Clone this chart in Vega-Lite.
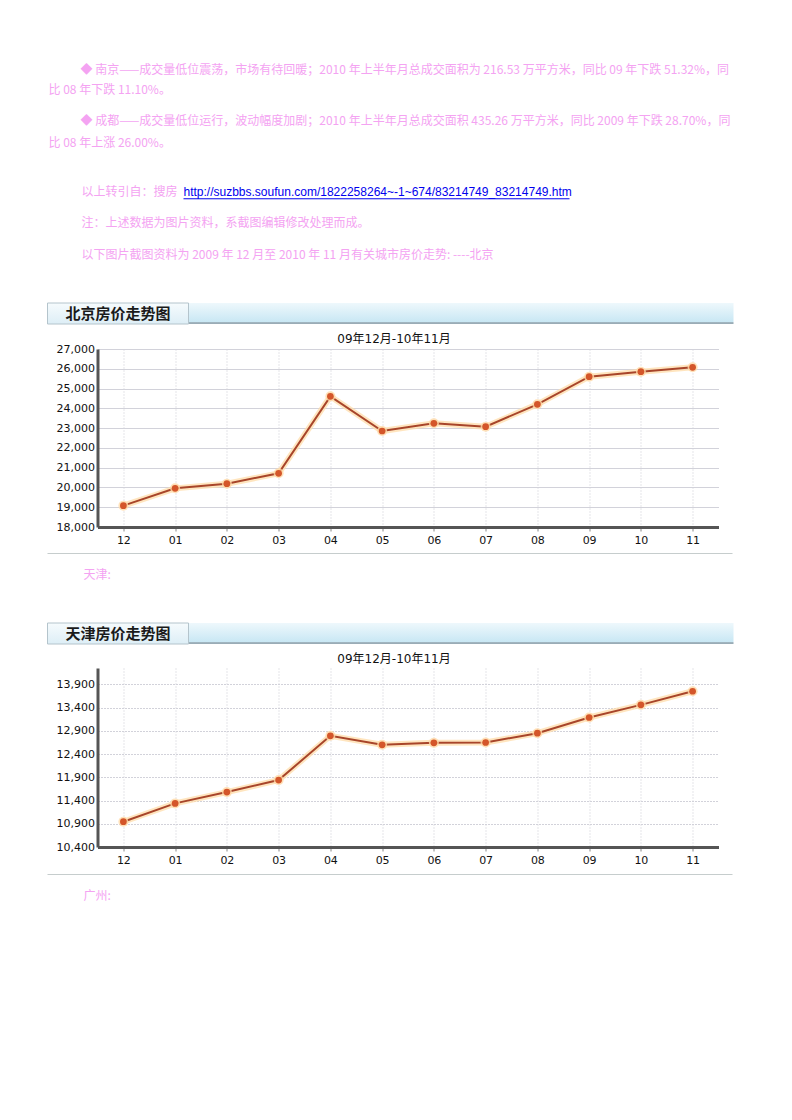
{
  "$schema": "https://vega.github.io/schema/vega-lite/v6.json",
  "background": "white",
  "padding": {"left": 46.5, "top": 60, "right": 10, "bottom": 10},
  "bounds": "flush",
  "spacing": 0,
  "config": {"view": {"stroke": null}, "concat": {"spacing": 0}},
  "vconcat": [
    {
      "width": 621, "height": 51,
      "data": {"values": [
        {"line": 1, "kind": "首行", "text": "◆ 南京——成交量低位震荡，市场有待回暖；2010 年上半年月总成交面积为 216.53 万平方米，同比 09 年下跌 51.32%，同"},
        {"line": 2, "kind": "续行", "text": "比 08 年下跌 11.10%。"}
      ]},
      "mark": {"type": "text", "align": "left", "baseline": "middle", "font": "Noto Sans CJK SC", "fontSize": 12, "color": "#f4a3f2"},
      "encoding": {
        "y": {"field": "line", "type": "ordinal", "axis": null, "scale": {"type": "point", "padding": 0.775, "align": 0.3226}},
        "x": {"field": "kind", "type": "nominal", "axis": null, "scale": {"type": "point", "padding": 0, "domain": ["续行", "首行"], "range": [-49, -17]}},
        "text": {"field": "text"}
      }
    },
    {
      "width": 621, "height": 66,
      "data": {"values": [
        {"line": 1, "kind": "首行", "text": "◆ 成都——成交量低位运行，波动幅度加剧；2010 年上半年月总成交面积 435.26 万平方米，同比 2009 年下跌 28.70%，同"},
        {"line": 2, "kind": "续行", "text": "比 08 年上涨 26.00%。"}
      ]},
      "mark": {"type": "text", "align": "left", "baseline": "middle", "font": "Noto Sans CJK SC", "fontSize": 12, "color": "#f4a3f2"},
      "encoding": {
        "y": {"field": "line", "type": "ordinal", "axis": null, "scale": {"type": "point", "padding": 1.15, "align": 0.2174}},
        "x": {"field": "kind", "type": "nominal", "axis": null, "scale": {"type": "point", "padding": 0, "domain": ["续行", "首行"], "range": [-49, -17]}},
        "text": {"field": "text"}
      }
    },
    {
      "width": 621, "height": 126,
      "encoding": {
        "y": {"field": "line", "type": "ordinal", "axis": null, "scale": {"type": "point", "padding": 1.0323, "align": 0.2344}}
      },
      "layer": [
        {
          "data": {"values": [
            {"line": 1, "kind": "首行", "text": "以上转引自：搜房"},
            {"line": 2, "kind": "首行", "text": "注：上述数据为图片资料，系截图编辑修改处理而成。"},
            {"line": 3, "kind": "首行", "text": "以下图片截图资料为 2009 年 12 月至 2010 年 11 月有关城市房价走势: ----北京"}
          ]},
          "mark": {"type": "text", "align": "left", "baseline": "middle", "font": "Noto Sans CJK SC", "fontSize": 12, "color": "#f4a3f2"},
          "encoding": {
            "x": {"field": "kind", "type": "nominal", "axis": null, "scale": {"type": "point", "padding": 0, "domain": ["首行", "链接"], "range": [-16, 86]}},
            "text": {"field": "text"}
          }
        },
        {
          "data": {"values": [
            {"line": 1, "kind": "链接", "text": "http://suzbbs.soufun.com/1822258264~-1~674/83214749_83214749.htm"}
          ]},
          "mark": {"type": "text", "align": "left", "baseline": "middle", "font": "Liberation Sans", "fontSize": 12, "color": "#0000ee"},
          "encoding": {
            "x": {"field": "kind", "type": "nominal", "axis": null, "scale": {"type": "point", "padding": 0, "domain": ["首行", "链接"], "range": [-16, 86]}},
            "text": {"field": "text"}
          }
        },
        {
          "data": {"values": [{"line": 1, "from": "起", "to": "止"}]},
          "mark": {"type": "rule", "color": "#0000ee", "strokeWidth": 1, "yOffset": 7},
          "encoding": {
            "x": {"field": "from", "type": "nominal", "axis": null, "scale": {"type": "point", "padding": 0, "domain": ["起", "止"], "range": [86, 472]}},
            "x2": {"field": "to"}
          }
        }
      ],
      "resolve": {"scale": {"x": "independent"}}
    },
    {
      "width": 621, "height": 21,
      "data": {"values": [{"部件": "标签", "标题": "北京房价走势图"}, {"部件": "标题栏", "标题": ""}]},
      "layer": [
        {
          "transform": [{"filter": "datum['部件'] === '标题栏'"}],
          "mark": {"type": "rect", "fill": {"gradient": "linear", "x1": 0, "y1": 0, "x2": 0, "y2": 1, "stops": [{"offset": 0, "color": "#eef8fc"}, {"offset": 0.92, "color": "#c8e7f4"}, {"offset": 0.93, "color": "#9aacb6"}, {"offset": 1, "color": "#9aacb6"}]}},
          "encoding": {"x": {"field": "部件", "type": "nominal", "axis": null, "scale": {"type": "band", "padding": 0, "domain": ["标题栏"], "range": [91, 636]}}}
        },
        {
          "transform": [{"filter": "datum['部件'] === '标签'"}],
          "mark": {"type": "rect", "fill": {"gradient": "linear", "x1": 0, "y1": 0, "x2": 0, "y2": 1, "stops": [{"offset": 0, "color": "#f6fbfd"}, {"offset": 1, "color": "#ddeef6"}]}, "stroke": "#b4c4cc", "strokeWidth": 1},
          "encoding": {"x": {"field": "部件", "type": "nominal", "axis": null, "scale": {"type": "band", "padding": 0, "domain": ["标签"], "range": [-50, 91]}}}
        },
        {
          "transform": [{"filter": "datum['部件'] === '标签'"}],
          "mark": {"type": "text", "align": "center", "baseline": "middle", "font": "Noto Sans CJK SC", "fontSize": 15, "fontWeight": "bold", "color": "#1a1a1a"},
          "encoding": {
            "x": {"field": "部件", "type": "nominal", "axis": null, "scale": {"type": "band", "padding": 0, "domain": ["标签"], "range": [-50, 91]}},
            "text": {"field": "标题"}
          }
        }
      ],
      "resolve": {"scale": {"x": "independent"}}
    },
    {
      "width": 621, "height": 25,
      "data": {"values": [{"line": 1, "text": "09年12月-10年11月"}]},
      "mark": {"type": "text", "align": "center", "baseline": "middle", "font": "DejaVu Sans, Noto Sans CJK SC", "fontSize": 12, "color": "#111111"},
      "encoding": {
        "y": {"field": "line", "type": "ordinal", "axis": null, "scale": {"type": "point", "align": 0.6}},
        "x": {"field": "text", "type": "nominal", "axis": null, "scale": {"type": "point", "range": [0, 593]}},
        "text": {"field": "text"}
      }
    },
    {
      "width": 621, "height": 178,
      "data": {"values": [
        {"月份": "12", "房价": 19080},
        {"月份": "01", "房价": 19955},
        {"月份": "02", "房价": 20190},
        {"月份": "03", "房价": 20714},
        {"月份": "04", "房价": 24607},
        {"月份": "05", "房价": 22854},
        {"月份": "06", "房价": 23242},
        {"月份": "07", "房价": 23073},
        {"月份": "08", "房价": 24202},
        {"月份": "09", "房价": 25601},
        {"月份": "10", "房价": 25854},
        {"月份": "11", "房价": 26073}
      ]},
      "encoding": {
        "x": {"field": "月份", "type": "ordinal", "sort": null, "scale": {"type": "point", "padding": 0.5},
          "axis": {"title": null, "labelAngle": 0, "labelFont": "DejaVu Sans", "labelFontSize": 11, "labelColor": "#111111", "labelPadding": 3, "domainColor": "#555555", "domainWidth": 3, "tickColor": "#888888", "tickSize": 4, "grid": true, "gridColor": "#cacad2", "gridDash": [1, 2]}},
        "y": {"field": "房价", "type": "quantitative", "scale": {"domain": [18000, 27000], "zero": false, "nice": false},
          "axis": {"title": null, "values": [18000, 19000, 20000, 21000, 22000, 23000, 24000, 25000, 26000, 27000], "format": ",d", "labelFont": "DejaVu Sans", "labelFontSize": 11, "labelColor": "#111111", "labelPadding": 3, "ticks": false, "domainColor": "#555555", "domainWidth": 3, "grid": true, "gridColor": "#d2d2da"}}
      },
      "layer": [
        {"mark": {"type": "line", "stroke": "#ffdcaa", "strokeWidth": 6, "opacity": 0.75}},
        {"mark": {"type": "line", "stroke": "#a8452a", "strokeWidth": 2}},
        {"mark": {"type": "point", "filled": true, "size": 100, "color": "#ffd9a8", "opacity": 0.8}},
        {"mark": {"type": "point", "filled": true, "size": 45, "color": "#d4562a", "opacity": 1}}
      ]
    },
    {"width": 621, "height": 26, "data": {"values": []}, "mark": "rect"},
    {
      "width": 621, "height": 1,
      "data": {"values": [{"部件": "分隔线"}]},
      "mark": {"type": "rect", "fill": "#c6cdcd"},
      "encoding": {"x": {"field": "部件", "type": "nominal", "axis": null, "scale": {"type": "band", "padding": 0, "range": [-50, 635]}}}
    },
    {
      "width": 621, "height": 69,
      "data": {"values": [{"line": 1, "kind": "首行", "text": "天津:"}]},
      "mark": {"type": "text", "align": "left", "baseline": "middle", "font": "Noto Sans CJK SC", "fontSize": 12, "color": "#f4a3f2"},
      "encoding": {
        "y": {"field": "line", "type": "ordinal", "axis": null, "scale": {"type": "point", "align": 0.3043}},
        "x": {"field": "kind", "type": "nominal", "axis": null, "scale": {"type": "point", "padding": 0, "domain": ["续行", "首行"], "range": [-46, -14]}},
        "text": {"field": "text"}
      }
    },
    {
      "width": 621, "height": 21,
      "data": {"values": [{"部件": "标签", "标题": "天津房价走势图"}, {"部件": "标题栏", "标题": ""}]},
      "layer": [
        {
          "transform": [{"filter": "datum['部件'] === '标题栏'"}],
          "mark": {"type": "rect", "fill": {"gradient": "linear", "x1": 0, "y1": 0, "x2": 0, "y2": 1, "stops": [{"offset": 0, "color": "#eef8fc"}, {"offset": 0.92, "color": "#c8e7f4"}, {"offset": 0.93, "color": "#9aacb6"}, {"offset": 1, "color": "#9aacb6"}]}},
          "encoding": {"x": {"field": "部件", "type": "nominal", "axis": null, "scale": {"type": "band", "padding": 0, "domain": ["标题栏"], "range": [91, 636]}}}
        },
        {
          "transform": [{"filter": "datum['部件'] === '标签'"}],
          "mark": {"type": "rect", "fill": {"gradient": "linear", "x1": 0, "y1": 0, "x2": 0, "y2": 1, "stops": [{"offset": 0, "color": "#f6fbfd"}, {"offset": 1, "color": "#ddeef6"}]}, "stroke": "#b4c4cc", "strokeWidth": 1},
          "encoding": {"x": {"field": "部件", "type": "nominal", "axis": null, "scale": {"type": "band", "padding": 0, "domain": ["标签"], "range": [-50, 91]}}}
        },
        {
          "transform": [{"filter": "datum['部件'] === '标签'"}],
          "mark": {"type": "text", "align": "center", "baseline": "middle", "font": "Noto Sans CJK SC", "fontSize": 15, "fontWeight": "bold", "color": "#1a1a1a"},
          "encoding": {
            "x": {"field": "部件", "type": "nominal", "axis": null, "scale": {"type": "band", "padding": 0, "domain": ["标签"], "range": [-50, 91]}},
            "text": {"field": "标题"}
          }
        }
      ],
      "resolve": {"scale": {"x": "independent"}}
    },
    {
      "width": 621, "height": 24,
      "data": {"values": [{"line": 1, "text": "09年12月-10年11月"}]},
      "mark": {"type": "text", "align": "center", "baseline": "middle", "font": "DejaVu Sans, Noto Sans CJK SC", "fontSize": 12, "color": "#111111"},
      "encoding": {
        "y": {"field": "line", "type": "ordinal", "axis": null, "scale": {"type": "point", "align": 0.625}},
        "x": {"field": "text", "type": "nominal", "axis": null, "scale": {"type": "point", "range": [0, 593]}},
        "text": {"field": "text"}
      }
    },
    {
      "width": 621, "height": 179,
      "data": {"values": [
        {"月份": "12", "房价": 10944},
        {"月份": "01", "房价": 11338},
        {"月份": "02", "房价": 11581},
        {"月份": "03", "房价": 11839},
        {"月份": "04", "房价": 12791},
        {"月份": "05", "房价": 12598},
        {"月份": "06", "房价": 12640},
        {"月份": "07", "房价": 12648},
        {"月份": "08", "房价": 12848},
        {"月份": "09", "房价": 13185},
        {"月份": "10", "房价": 13457},
        {"月份": "11", "房价": 13750}
      ]},
      "encoding": {
        "x": {"field": "月份", "type": "ordinal", "sort": null, "scale": {"type": "point", "padding": 0.5},
          "axis": {"title": null, "labelAngle": 0, "labelFont": "DejaVu Sans", "labelFontSize": 11, "labelColor": "#111111", "labelPadding": 3, "domainColor": "#555555", "domainWidth": 3, "tickColor": "#888888", "tickSize": 4, "grid": true, "gridColor": "#cacad2", "gridDash": [1, 2]}},
        "y": {"field": "房价", "type": "quantitative", "scale": {"domain": [10400, 14250], "zero": false, "nice": false},
          "axis": {"title": null, "values": [10400, 10900, 11400, 11900, 12400, 12900, 13400, 13900], "format": ",d", "labelFont": "DejaVu Sans", "labelFontSize": 11, "labelColor": "#111111", "labelPadding": 3, "ticks": false, "domainColor": "#555555", "domainWidth": 3, "grid": true, "gridColor": "#d2d2da", "gridDash": [2, 1]}}
      },
      "layer": [
        {"mark": {"type": "line", "stroke": "#ffdcaa", "strokeWidth": 6, "opacity": 0.75}},
        {"mark": {"type": "line", "stroke": "#a8452a", "strokeWidth": 2}},
        {"mark": {"type": "point", "filled": true, "size": 100, "color": "#ffd9a8", "opacity": 0.8}},
        {"mark": {"type": "point", "filled": true, "size": 45, "color": "#d4562a", "opacity": 1}}
      ]
    },
    {"width": 621, "height": 27, "data": {"values": []}, "mark": "rect"},
    {
      "width": 621, "height": 1,
      "data": {"values": [{"部件": "分隔线"}]},
      "mark": {"type": "rect", "fill": "#c6cdcd"},
      "encoding": {"x": {"field": "部件", "type": "nominal", "axis": null, "scale": {"type": "band", "padding": 0, "range": [-50, 635]}}}
    },
    {
      "width": 621, "height": 42,
      "data": {"values": [{"line": 1, "kind": "首行", "text": "广州:"}]},
      "mark": {"type": "text", "align": "left", "baseline": "middle", "font": "Noto Sans CJK SC", "fontSize": 12, "color": "#f4a3f2"},
      "encoding": {
        "y": {"field": "line", "type": "ordinal", "axis": null, "scale": {"type": "point", "align": 0.5}},
        "x": {"field": "kind", "type": "nominal", "axis": null, "scale": {"type": "point", "padding": 0, "domain": ["续行", "首行"], "range": [-46, -14]}},
        "text": {"field": "text"}
      }
    }
  ]
}
